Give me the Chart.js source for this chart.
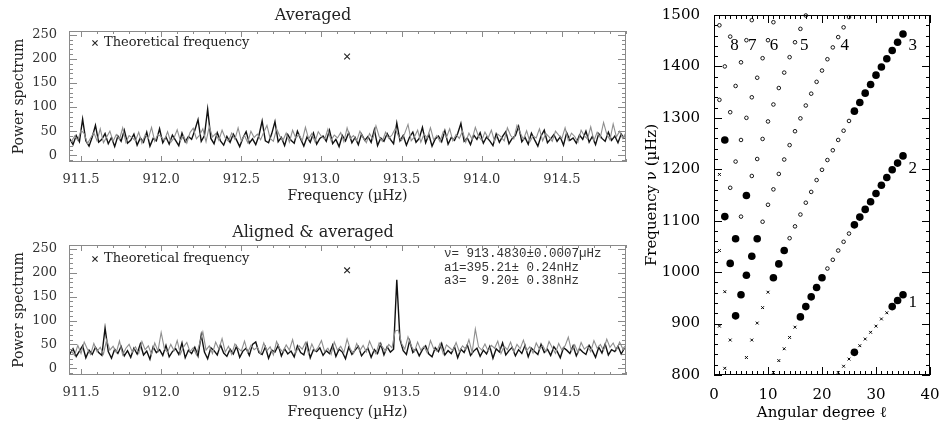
<!DOCTYPE html>
<html>
<head>
<meta charset="utf-8">
<script src="https://cdn.jsdelivr.net/npm/chart.js@4.4.1/dist/chart.umd.min.js"></script>
<style>
  html, body { margin: 0; background: #fff; }
  #wrap { position: relative; width: 950px; height: 423px; overflow: hidden; }
  canvas { position: absolute; }
</style>
</head>
<body>
<div id="wrap">
  <canvas id="averaged" width="636" height="210" style="left:0;top:0"></canvas>
  <canvas id="aligned" width="636" height="211" style="left:0;top:212px"></canvas>
  <canvas id="ridges" width="314" height="423" style="left:636px;top:0"></canvas>
</div>
<script>
// ---- power spectra: bins of 0.02 µHz, black from 911.43, grey half a bin later ----
const freqStart = 911.43;
const freqStep = 0.02;
const greyShift = 0.01;

const averagedBlack = [
  34, 22, 41, 28, 75, 30, 19, 38, 62, 27,
  33, 45, 24, 37, 18, 40, 29, 52, 25, 31,
  44, 21, 36, 27, 48, 19, 35, 30, 55, 26,
  38, 23, 42, 31, 20, 46, 28, 39, 33, 52,
  74, 29, 41, 96, 35, 24, 47, 30, 21, 39,
  27, 44, 32, 18, 36, 49, 25, 34, 22, 41,
  71, 30, 26, 45, 70, 28, 37, 20, 43, 31,
  25, 50, 34, 19, 38, 27, 46, 23, 35, 40,
  29, 52, 24, 33, 18, 41, 30, 47, 26, 37,
  22, 44, 31, 39, 27, 53, 20, 36, 29, 45,
  33, 24, 67, 30, 41, 21, 38, 48, 27, 35,
  58, 26, 43, 19, 34, 40, 28, 51, 23, 37,
  31, 45, 66, 29, 36, 22, 42, 33, 47, 25,
  38, 30, 20, 44, 27, 39, 49, 24, 35, 41,
  60, 28, 37, 23, 46, 32, 19, 40, 52, 26,
  34, 43, 29, 38, 21, 47, 31, 36, 25, 42,
  33, 50, 27, 39, 22, 45, 35, 29, 48, 31,
  40, 26, 44, 34
];
const averagedGrey = [
  28, 40, 31, 52, 45, 24, 36, 47, 30, 55,
  26, 38, 50, 29, 43, 33, 57, 27, 41, 36,
  30, 48, 25, 42, 35, 58, 29, 44, 38, 31,
  49, 27, 36, 53, 30, 40, 25, 47, 56, 34,
  42, 55, 28, 60, 38, 45, 31, 52, 36, 29,
  46, 33, 57, 30, 41, 26, 50, 37, 44, 32,
  48, 62, 35, 29, 55, 40, 31, 46, 27, 52,
  36, 43, 30, 58, 34, 45, 28, 49, 39, 33,
  54, 31, 42, 36, 47, 28, 57, 35, 41, 30,
  50, 37, 26, 45, 33, 61, 39, 29, 48, 35,
  42, 55, 40, 31, 46, 64, 30, 38, 52, 27,
  44, 36, 57, 32, 41, 28, 49, 37, 55, 30,
  43, 35, 50, 27, 46, 33, 58, 39, 31, 48,
  36, 52, 29, 44, 38, 30, 57, 41, 34, 62,
  47, 33, 51, 28, 40, 36, 55, 30, 45, 38,
  29, 50, 42, 35, 57, 31, 46, 39, 27, 52,
  40, 34, 59, 30, 48, 37, 68, 44, 32, 65,
  38, 50, 35, 47
];
const alignedBlack = [
  30, 41, 25, 36, 47, 22, 38, 29, 44, 33,
  27, 84, 35, 21, 40, 31, 46, 26, 37, 23,
  42, 30, 51, 28, 36, 19, 45, 33, 39, 27,
  48, 24, 35, 41, 29, 53, 22, 38, 31, 44,
  26, 70, 34, 20, 43, 37, 28, 49, 32, 25,
  40, 30, 46, 23, 36, 42, 27, 50, 55, 33,
  29, 45, 21, 38, 34, 48, 26, 41, 30, 36,
  24, 47, 33, 28, 52, 22, 39, 35, 43, 27,
  37, 31, 49, 25, 40, 34, 20, 44, 29, 38,
  46, 26, 35, 42, 23, 39, 31, 51, 28, 45,
  34, 40, 185, 60, 37, 29, 58, 33, 41, 26,
  39, 47, 30, 24, 43, 35, 52, 28, 37, 31,
  45, 22, 40, 33, 49, 27, 36, 42, 25, 38,
  30, 46, 21, 41, 34, 53, 28, 37, 44, 26,
  39, 31, 48, 24, 42, 35, 29, 50, 33, 40,
  27, 45, 36, 22, 43, 38, 31, 47, 26, 41,
  34, 29, 48, 37, 23, 44, 32, 51, 28, 39,
  35, 46, 30, 42
];
const alignedGrey = [
  36, 27, 48, 31, 55, 40, 29, 52, 35, 44,
  30, 60, 38, 46, 33, 57, 28, 42, 50, 34,
  45, 31, 56, 39, 47, 29, 53, 36, 75, 41,
  33, 50, 37, 58, 30, 45, 54, 35, 43, 28,
  52, 76, 38, 47, 31, 55, 40, 62, 34, 46,
  29, 51, 42, 36, 57, 33, 48, 39, 44, 30,
  53, 37, 45, 28, 56, 41, 34, 49, 38, 60,
  32, 47, 40, 54, 30, 51, 36, 44, 58, 35,
  42, 29, 55, 38, 46, 33, 61, 40, 31, 52,
  37, 48, 34, 57, 41, 30, 53, 45, 36, 50,
  43, 78, 80, 52, 40, 66, 47, 35, 55, 38,
  46, 32, 58, 41, 36, 52, 30, 49, 43, 37,
  54, 35, 47, 40, 60, 33, 82, 45, 38, 51,
  36, 48, 42, 57, 31, 46, 39, 55, 34, 50,
  41, 59, 37, 45, 32, 53, 40, 48, 35, 56,
  43, 31, 52, 38, 47, 65, 36, 49, 33, 54,
  40, 46, 35, 58, 42, 50, 37, 61, 44, 53,
  38, 55, 41, 48
];
const theoreticalFreq = [913.16];
const theoreticalPower = [205];
const freqTicks = [911.5, 912.0, 912.5, 913.0, 913.5, 914.0, 914.5];
const powerTicks = [0, 50, 100, 150, 200, 250];
const fitLines = ['\u03bd= 913.4830\u00b10.0007\u00b5Hz', 'a1=395.21\u00b1 0.24nHz', 'a3=  9.20\u00b1 0.38nHz'];

// ---- echelle of modes: angular degree l vs frequency ----
const filledL  = [26, 33, 34, 35,
  16, 17, 18, 19, 20, 26, 27, 28, 29, 30, 31, 32, 33, 34, 35,
  11, 12, 13, 26, 27, 28, 29, 30, 31, 32, 33, 34, 35,
  4, 5, 6, 7, 8, 3, 4, 6, 2, 2];
const filledNu = [844, 933, 945, 956,
  913, 933, 952, 970, 989, 1092, 1107, 1122, 1137, 1153, 1169, 1184, 1199, 1212, 1226,
  989, 1016, 1042, 1313, 1330, 1348, 1365, 1383, 1399, 1415, 1431, 1447, 1463,
  915, 956, 994, 1031, 1065, 1017, 1065, 1149, 1108, 1257];
const openL  = [21, 22, 23, 24, 25,
  14, 15, 16, 17, 18, 19, 20, 21, 22, 23, 24, 25,
  9, 10, 11, 12, 13, 14, 15, 16, 17, 18, 19, 20, 21, 22, 23, 24, 25,
  5, 7, 8, 9, 10, 11, 12, 13, 14, 15, 16, 17,
  3, 4, 5, 6, 7, 8, 9, 10, 11,
  3, 4, 5, 6, 7,
  1, 2, 3, 1];
const openNu = [1007, 1024, 1042, 1059, 1075,
  1066, 1089, 1112, 1135, 1156, 1179, 1199, 1218, 1237, 1257, 1275, 1294,
  1098, 1131, 1161, 1191, 1219, 1247, 1274, 1299, 1324, 1347, 1370, 1392, 1414, 1437, 1457, 1476, 1496,
  1108, 1187, 1220, 1259, 1293, 1326, 1358, 1388, 1418, 1447, 1473, 1499,
  1164, 1215, 1257, 1300, 1340, 1378, 1416, 1451, 1486,
  1311, 1362, 1408, 1451, 1490,
  1335, 1400, 1458, 1480];
const crossL  = [23, 24, 25, 27, 28, 29, 30, 31, 32,
  11, 12, 13, 14, 15,
  6, 7, 8, 9, 10,
  2, 3, 1, 2, 1, 1];
const crossNu = [805, 817, 831, 857, 870, 883, 895, 909, 921,
  805, 828, 851, 873, 893,
  834, 868, 901, 931, 961,
  813, 868, 895, 962, 1042, 1190];
const ridgeNames = ['8', '7', '6', '5', '4', '3', '2', '1'];
const ridgeNameL  = [3.8, 7.1, 11.1, 16.7, 24.2, 36.8, 36.8, 36.8];
const ridgeNameNu = [1440, 1440, 1440, 1440, 1440, 1440, 1202, 940];
const degreeTicks = [0, 10, 20, 30, 40];
const nuTicks = [800, 900, 1000, 1100, 1200, 1300, 1400, 1500];

// box frame with IDL-style inward ticks on all four sides
function boxTicks(color, xt, yt) {
  return {
    id: 'boxTicks',
    afterDatasetsDraw(chart) {
      const {ctx, chartArea: a, scales: {x, y}} = chart;
      ctx.save();
      ctx.strokeStyle = color;
      ctx.lineWidth = 1;
      ctx.strokeRect(a.left + 0.5, a.top + 0.5, a.right - a.left - 1, a.bottom - a.top - 1);
      ctx.beginPath();
      const each = (s, t, fn) => {
        const ratio = Math.round(t.major / t.minor);
        for (let k = Math.ceil(s.min / t.minor - 1e-6); k * t.minor <= s.max + 1e-6; k++) {
          const len = k % ratio === 0 ? t.majorLen : t.minorLen;
          fn(Math.round(s.getPixelForValue(k * t.minor)) + 0.5, len);
        }
      };
      each(x, xt, (p, len) => {
        ctx.moveTo(p, a.bottom); ctx.lineTo(p, a.bottom - len);
        ctx.moveTo(p, a.top); ctx.lineTo(p, a.top + len);
      });
      each(y, yt, (p, len) => {
        ctx.moveTo(a.left, p); ctx.lineTo(a.left + len, p);
        ctx.moveTo(a.right, p); ctx.lineTo(a.right - len, p);
      });
      ctx.stroke();
      ctx.restore();
    }
  };
}

// text notes, either in data units (at) or offset from the plot corner (dx, dy)
function notes(items) {
  return {
    id: 'notes',
    afterDatasetsDraw(chart) {
      const {ctx, chartArea: a, scales: {x, y}} = chart;
      ctx.save();
      for (const n of items) {
        const px = n.at ? x.getPixelForValue(n.at[0]) : a.left + n.dx;
        const py = n.at ? y.getPixelForValue(n.at[1]) : a.top + n.dy;
        if (n.mark) {
          ctx.strokeStyle = '#222';
          ctx.lineWidth = 1.1;
          ctx.beginPath();
          ctx.moveTo(px - 2.6, py - 2.6); ctx.lineTo(px + 2.6, py + 2.6);
          ctx.moveTo(px - 2.6, py + 2.6); ctx.lineTo(px + 2.6, py - 2.6);
          ctx.stroke();
          continue;
        }
        ctx.font = n.font;
        ctx.fillStyle = n.color || '#000';
        ctx.textAlign = n.align || 'left';
        ctx.textBaseline = 'middle';
        ctx.fillText(n.text, px, py);
      }
      ctx.restore();
    }
  };
}

const serif = '"DejaVu Serif", serif';

function spectrum(id, title, titlePad, xTitlePad, black, grey, extra) {
  const pts = (arr, shift) => arr.map((v, i) => ({x: freqStart + shift + i * freqStep, y: v}));
  const legend = [
    {mark: true, dx: 26, dy: titlePad.legendY},
    {text: 'Theoretical frequency', dx: 35, dy: titlePad.legendY, font: '13px ' + serif, color: '#222'}
  ];
  new Chart(document.getElementById(id), {
    type: 'line',
    data: {
      datasets: [
        {data: pts(grey, greyShift), borderColor: '#8e8e8e', borderWidth: 1.1, pointRadius: 0, tension: 0},
        {data: pts(black, 0), borderColor: '#111', borderWidth: 1.4, pointRadius: 0, tension: 0},
        {type: 'scatter', data: theoreticalFreq.map((f, i) => ({x: f, y: theoreticalPower[i]})),
         pointStyle: 'crossRot', pointRadius: 4, borderColor: '#222', borderWidth: 1.1}
      ]
    },
    options: {
      responsive: false,
      animation: false,
      events: [],
      layout: {padding: {left: 0, right: 10, top: 0, bottom: 0}},
      plugins: {
        legend: {display: false},
        tooltip: {enabled: false},
        title: {display: true, text: title, color: '#222',
                font: {family: serif, size: 16, weight: 'normal'},
                padding: {top: titlePad.top, bottom: titlePad.bottom}}
      },
      scales: {
        x: {
          type: 'linear', min: 911.425, max: 914.9,
          afterFit: s => { s.height = 48; },
          afterBuildTicks: s => { s.ticks = freqTicks.map(v => ({value: v})); },
          grid: {display: false}, border: {display: false},
          ticks: {padding: 2, color: '#333', font: {family: serif, size: 13},
                  callback: v => v.toFixed(1)},
          title: {display: true, text: 'Frequency (\u00b5Hz)', color: '#222',
                  font: {family: serif, size: 14}, padding: {top: 0, bottom: xTitlePad}}
        },
        y: {
          min: -14, max: 258,
          afterFit: s => { s.width = 69; },
          afterBuildTicks: s => { s.ticks = powerTicks.map(v => ({value: v})); },
          grid: {display: false}, border: {display: false},
          ticks: {padding: 4, color: '#333', font: {family: serif, size: 13}},
          title: {display: true, text: 'Power spectrum', color: '#222',
                  font: {family: serif, size: 14}, padding: {top: 11, bottom: 0}}
        }
      }
    },
    plugins: [
      boxTicks('#8a8a8a', {major: 0.5, minor: 0.1, majorLen: 6, minorLen: 3},
                          {major: 50, minor: 10, majorLen: 8, minorLen: 4}),
      notes(legend.concat(extra))
    ]
  });
}

spectrum('averaged', 'Averaged', {top: 6.4, bottom: 5.4, legendY: 12}, 5.6,
         averagedBlack, averagedGrey, []);
spectrum('aligned', 'Aligned & averaged', {top: 11.4, bottom: 2.4, legendY: 14}, 2.6,
         alignedBlack, alignedGrey,
         fitLines.map((t, i) => ({text: t, dx: 375, dy: 9 + i * 13.5,
                                  font: '12.5px "Liberation Mono", monospace', color: '#333'})));

// right panel
const xy = (ls, nus) => ls.map((l, i) => ({x: l, y: nus[i]}));
new Chart(document.getElementById('ridges'), {
  type: 'scatter',
  data: {
    datasets: [
      {data: xy(openL, openNu), pointStyle: 'circle', pointRadius: 1.8,
       backgroundColor: '#fff', borderColor: '#000', borderWidth: 0.9, clip: false},
      {data: xy(crossL, crossNu), pointStyle: 'crossRot', pointRadius: 2,
       borderColor: '#000', borderWidth: 1, clip: false},
      {data: xy(filledL, filledNu), pointStyle: 'circle', pointRadius: 3.8,
       backgroundColor: '#000', borderColor: '#000', borderWidth: 0, clip: false}
    ]
  },
  options: {
    responsive: false,
    animation: false,
    events: [],
    layout: {padding: {left: 0, right: 20, top: 14, bottom: 0}},
    plugins: {
      legend: {display: false},
      tooltip: {enabled: false}
    },
    scales: {
      x: {
        type: 'linear', min: 0, max: 40,
        afterFit: s => { s.height = 48; },
        afterBuildTicks: s => { s.ticks = degreeTicks.map(v => ({value: v})); },
        grid: {display: false}, border: {display: false},
        ticks: {padding: 3, color: '#000', font: {family: serif, size: 15},
                callback: v => String(v)},
        title: {display: true, text: 'Angular degree \u2113', color: '#000',
                font: {family: serif, size: 15}, padding: {top: 0, bottom: 1.3}}
      },
      y: {
        min: 800, max: 1500,
        afterFit: s => { s.width = 78; },
        afterBuildTicks: s => { s.ticks = nuTicks.map(v => ({value: v})); },
        grid: {display: false}, border: {display: false},
        ticks: {padding: 6, color: '#000', font: {family: serif, size: 15},
                callback: v => String(v)},
        title: {display: true, text: 'Frequency \u03bd (\u00b5Hz)', color: '#000',
                font: {family: serif, size: 15}, padding: {top: 7, bottom: 0}}
      }
    }
  },
  plugins: [
    boxTicks('#000', {major: 10, minor: 1, majorLen: 8, minorLen: 4},
                     {major: 100, minor: 20, majorLen: 8, minorLen: 4}),
    notes(ridgeNames.map((t, i) => ({text: t, at: [ridgeNameL[i], ridgeNameNu[i]],
                                     align: 'center', font: '17px "Liberation Serif", serif'})))
  ]
});
</script>
</body>
</html>
